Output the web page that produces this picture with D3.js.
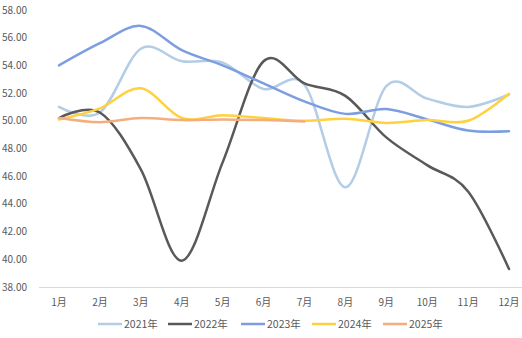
<!DOCTYPE html>
<html><head><meta charset="utf-8">
<script src="https://cdn.jsdelivr.net/npm/d3@7"></script>
<style>body{margin:0;background:#fff;}svg{display:block;}</style>
</head><body><svg id="c" width="522" height="338"></svg>
<script>
const months = ["1月","2月","3月","4月","5月","6月","7月","8月","9月","10月","11月","12月"];
const yTicks = [38,40,42,44,46,48,50,52,54,56,58];
const seriesNames = ["2021年","2022年","2023年","2024年","2025年"];
const v2021 = [51.0,50.6,55.2,54.3,54.2,52.3,52.6,45.2,52.5,51.6,51.0,51.9];
const v2022 = [50.2,50.6,46.5,39.9,47.0,54.3,52.7,51.8,48.8,46.8,44.9,39.3];
const v2023 = [54.0,55.6,56.85,55.1,54.0,52.7,51.4,50.5,50.85,50.1,49.3,49.25];
const v2024 = [50.1,50.9,52.35,50.2,50.4,50.2,50.0,50.15,49.85,50.05,50.0,51.95];
const v2025 = [50.2,49.9,50.2,50.05,50.1,50.05,49.95];
const colors = ["#B4CDE6","#595959","#7C9EE0","#FFD13F","#F4AE7E"];
const allSeries = [v2021,v2022,v2023,v2024,v2025];

const svg = d3.select("#c");
const font = "'Noto Sans CJK SC', 'Liberation Sans', sans-serif";
const x = d3.scalePoint().domain(months).range([59,509]);
const y = d3.scaleLinear().domain([38,58]).range([287,10]);

// y labels
svg.append("g").selectAll("text").data(yTicks).join("text")
  .attr("x",27).attr("y",d=>y(d)).attr("dy","0.35em")
  .attr("text-anchor","end").attr("font-family",font).attr("font-size","10px")
  .attr("fill","#595959").text(d=>d.toFixed(2));

// x axis
svg.append("line").attr("x1",39).attr("x2",522).attr("y1",y(38)+0.5).attr("y2",y(38)+0.5)
  .attr("stroke","#D9D9D9").attr("stroke-width",1);
svg.append("g").selectAll("text").data(months).join("text")
  .attr("x",d=>x(d)).attr("y",302).attr("dy","0.35em").attr("text-anchor","middle")
  .attr("font-family",font).attr("font-size","10px").attr("fill","#595959").text(d=>d);

const line = d3.line().x((d,i)=>x(months[i])).y(d=>y(d)).curve(d3.curveCardinal.tension(0));
allSeries.forEach((s,i)=>{
  svg.append("path").attr("d",line(s)).attr("fill","none")
    .attr("stroke",colors[i]).attr("stroke-width",2.5).attr("stroke-linecap","round");
});

// legend
const lx = [98,168,241,312,383];
seriesNames.forEach((n,i)=>{
  svg.append("line").attr("x1",lx[i]).attr("x2",lx[i]+24).attr("y1",324).attr("y2",324)
    .attr("stroke",colors[i]).attr("stroke-width",2.5);
  svg.append("text").attr("x",lx[i]+26).attr("y",324).attr("dy","0.35em")
    .attr("font-family",font).attr("font-size","10.5px").attr("fill","#595959").text(n);
});
</script></body></html>
